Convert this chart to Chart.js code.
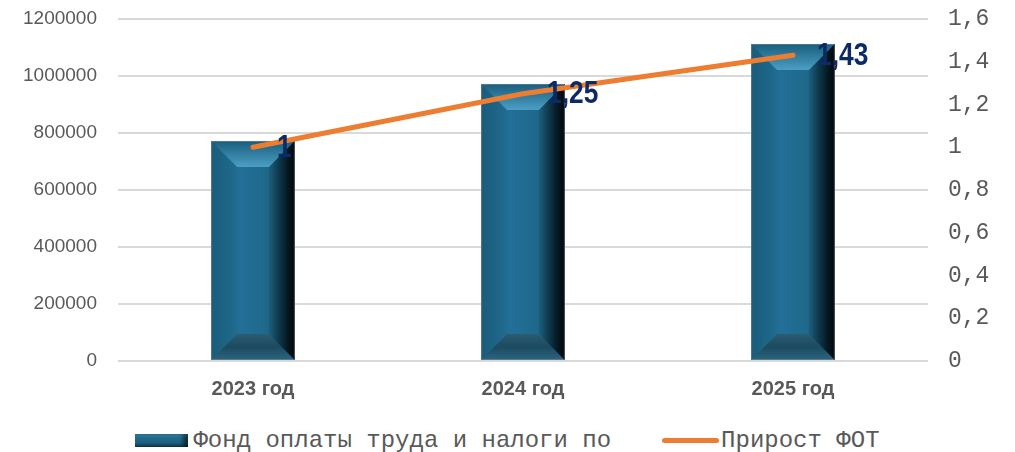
<!DOCTYPE html>
<html>
<head>
<meta charset="utf-8">
<script src="https://cdn.jsdelivr.net/npm/chart.js@4.4.0/dist/chart.umd.min.js"></script>
<style>
    html, body { margin: 0; padding: 0; background: #fff; overflow: hidden; }
    #wrap { position: relative; width: 1015px; height: 420px; }
    #legend {
        display: flex; justify-content: center; align-items: center;
        height: 32px; padding-top: 4px; width: 1015px;
        font-family: 'Courier New', 'Liberation Mono', monospace;
        font-size: 24px; color: #595959; white-space: nowrap;
    }
    .item { display: flex; align-items: center; }
    .barbox {
        width: 53px; height: 13px; margin-right: 5px;
        background: linear-gradient(180deg, #3f8fb4 0%, #1f6a8c 35%, #1b5f80 70%, #143f55 100%);
        box-shadow: inset -5px 0 4px rgba(0,0,0,0.55);
    }
    .linebox {
        width: 57px; height: 5px; margin-right: 2px; margin-left: 51px;
        background: #ed7d31; border-radius: 3px;
    }
</style>
</head>
<body>
<div id="wrap"><canvas id="myChart"></canvas></div>
<div id="legend">
    <div class="item"><span class="barbox"></span><span>Фонд оплаты труда и налоги по</span></div>
    <div class="item"><span class="linebox"></span><span>Прирост ФОТ</span></div>
</div>
<script>
const years = ['2023 год', '2024 год', '2025 год'];
const fundValues = [772000, 972000, 1112000];
const growthValues = [1, 1.25, 1.43];
const growthLabels = ['1', '1,25', '1,43'];

const gray = '#595959';

// 3D bevel on top of the plain bars, before the line is drawn
const bevelBars = {
    id: 'bevelBars',
    afterDatasetDraw(chart, args) {
        if (args.index !== 0) return;
        const ctx = chart.ctx;
        const poly = (pts, fill) => {
            ctx.beginPath();
            ctx.moveTo(pts[0][0], pts[0][1]);
            for (let i = 1; i < pts.length; i++) ctx.lineTo(pts[i][0], pts[i][1]);
            ctx.closePath();
            ctx.fillStyle = fill;
            ctx.fill();
        };
        args.meta.data.forEach(bar => {
            const l = bar.x - bar.width / 2, r = bar.x + bar.width / 2;
            const t = bar.y, b = bar.base;
            const d = 26;
            ctx.save();
            let g = ctx.createLinearGradient(l, 0, r, 0);
            g.addColorStop(0, '#1a5b7b');
            g.addColorStop(0.25, '#1e688a');
            g.addColorStop(0.35, '#236f98');
            g.addColorStop(0.72, '#1d6788');
            g.addColorStop(0.85, '#134a64');
            g.addColorStop(0.95, '#0a2a3a');
            g.addColorStop(1, '#03121a');
            ctx.fillStyle = g;
            ctx.fillRect(l, t, r - l, b - t);

            g = ctx.createLinearGradient(0, t, 0, t + d);
            g.addColorStop(0, '#195d7e');
            g.addColorStop(1, '#4b9fc4');
            poly([[l, t], [r, t], [r - d, t + d], [l + d, t + d]], g);

            g = ctx.createLinearGradient(0, b - d, 0, b);
            g.addColorStop(0, '#2a5c73');
            g.addColorStop(0.5, '#1c4a5f');
            g.addColorStop(1, '#2b6580');
            poly([[l, b], [r, b], [r - d, b - d], [l + d, b - d]], g);

            g = ctx.createLinearGradient(r - d, 0, r, 0);
            g.addColorStop(0, 'rgba(0,0,0,0.1)');
            g.addColorStop(1, 'rgba(0,0,0,0.7)');
            poly([[r, t], [r - d, t + d], [r - d, b - d], [r, b]], g);

            ctx.strokeStyle = 'rgba(120,140,150,0.6)';
            ctx.lineWidth = 1;
            ctx.strokeRect(l + 0.5, t + 0.5, r - l - 1, b - t - 1);
            ctx.restore();
        });
    }
};

const valueLabels = {
    id: 'valueLabels',
    afterDatasetsDraw(chart) {
        const ctx = chart.ctx;
        const meta = chart.getDatasetMeta(1);
        meta.data.forEach((pt, i) => {
            ctx.save();
            ctx.translate(pt.x + 24, pt.y + 1);
            ctx.scale(0.85, 1);
            ctx.font = 'bold 31px "Liberation Sans", Arial, sans-serif';
            ctx.fillStyle = '#0c2a66';
            ctx.textAlign = 'left';
            ctx.textBaseline = 'middle';
            ctx.fillText(growthLabels[i], 0, 0);
            ctx.restore();
        });
    }
};

// keep the plot area where the reference has it
const noEdgePadding = scale => {
    scale.paddingTop = 0;
    scale.paddingBottom = 0;
};

const ctx = document.getElementById('myChart');

new Chart(ctx, {
    data: {
        labels: years,
        datasets: [{
            type: 'bar',
            label: 'Фонд оплаты труда и налоги по',
            data: fundValues,
            backgroundColor: '#1f6a8c',
            barPercentage: 0.31,
            categoryPercentage: 1,
            yAxisID: 'y',
            order: 1
        }, {
            type: 'line',
            label: 'Прирост ФОТ',
            data: growthValues,
            borderColor: '#ed7d31',
            borderWidth: 5,
            borderCapStyle: 'round',
            pointRadius: 0,
            tension: 0,
            yAxisID: 'y1',
            order: 0
        }]
    },
    options: {
        responsive: true,
        maintainAspectRatio: false,
        animation: false,
        layout: { padding: { top: 19, left: 0, right: 0, bottom: 0 } },
        plugins: {
            legend: { display: false },
            tooltip: { enabled: false }
        },
        scales: {
            x: {
                grid: { display: false, drawTicks: false },
                border: { display: false },
                ticks: {
                    color: gray,
                    padding: 16,
                    font: { family: 'Liberation Sans, Arial, sans-serif', size: 20, weight: 'bold' }
                },
                afterFit(scale) { scale.height = 59; }
            },
            y: {
                position: 'left',
                min: 0,
                max: 1200000,
                grid: { color: '#d9d9d9', lineWidth: 2, drawTicks: false },
                border: { display: false },
                ticks: {
                    stepSize: 200000,
                    color: gray,
                    padding: 21,
                    font: { family: 'Liberation Sans, Arial, sans-serif', size: 19 },
                    callback: v => String(v)
                },
                afterFit(scale) { scale.width = 118; noEdgePadding(scale); }
            },
            y1: {
                position: 'right',
                min: 0,
                max: 1.6,
                grid: { display: false, drawTicks: false },
                border: { display: false },
                ticks: {
                    stepSize: 0.2,
                    color: gray,
                    padding: 20,
                    font: { family: '"Courier New", "Liberation Mono", monospace', size: 23 },
                    callback: v => Number(v.toFixed(1)).toString().replace('.', ',')
                },
                afterFit(scale) { scale.width = 87; noEdgePadding(scale); }
            }
        }
    },
    plugins: [bevelBars, valueLabels]
});
</script>
</body>
</html>
